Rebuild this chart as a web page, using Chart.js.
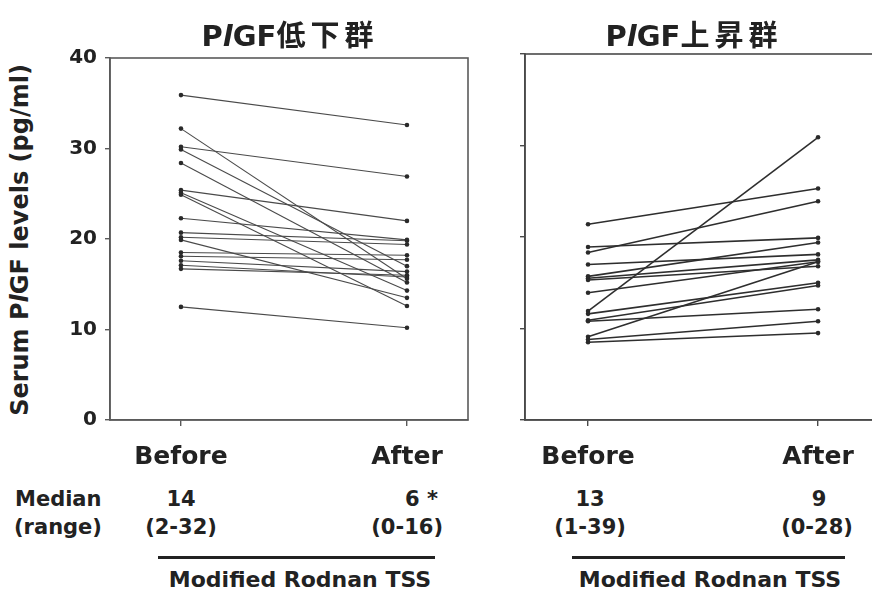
<!DOCTYPE html>
<html>
<head>
<meta charset="utf-8">
<script src="https://cdn.jsdelivr.net/npm/chart.js@4/dist/chart.umd.min.js"></script>
<style>
  html, body { margin: 0; padding: 0; background: #fff; }
  body { width: 872px; height: 591px; position: relative; overflow: hidden;
         font-family: "DejaVu Sans", sans-serif; font-weight: bold; color: #222; }
  canvas { position: absolute; }
  .t { position: absolute; white-space: nowrap; line-height: 1; }
  .ttl { position: absolute; white-space: nowrap; line-height: 1; transform: translateX(-50%); }
  .ttl .lat { font-size: 29px; }
  .ttl .cjk { font-family: "Noto Sans CJK JP", "Noto Sans CJK SC", sans-serif; font-weight: bold;
              font-size: 29px; letter-spacing: 5px; }
  .c { transform: translateX(-50%); }
  .r { transform: translateX(-100%); }
  .rule { position: absolute; height: 3px; background: #222; }
  .ytitle { position: absolute; white-space: nowrap; line-height: 1; font-size: 24px;
            transform: translate(-50%, -50%) rotate(-90deg); }
</style>
</head>
<body>
<canvas id="low" width="420" height="480" style="left:60px;top:0px"></canvas>
<canvas id="high" width="425" height="480" style="left:475px;top:0px"></canvas>

<div class="ttl" style="left:290px;top:19px"><span class="lat">P<i>l</i>GF</span><span class="cjk">低下群</span></div>
<div class="ttl" style="left:694px;top:19px"><span class="lat">P<i>l</i>GF</span><span class="cjk">上昇群</span></div>

<div class="ytitle" style="left:20px;top:240px">Serum P<i>l</i>GF levels (pg/ml)</div>

<div id="notes"></div>

<script>
// Stage labels on the x axis
const STAGES = ['Before', 'After'];
// y-axis ticks (pg/ml)
const Y_TICKS = [0, 10, 20, 30, 40];

// Serum PlGF per patient, group with falling PlGF
const lowBefore = [35.9, 32.2, 30.2, 29.9, 28.4, 25.4, 25.1, 24.9, 22.3, 20.7, 20.2, 19.9, 18.5, 18.1, 17.6, 17.1, 16.7, 12.5];
const lowAfter  = [32.6, 15.6, 26.9, 17.0, 15.2, 22.0, 14.3, 12.6, 19.9, 19.8, 19.4, 13.5, 18.2, 17.7, 16.4, 15.8, 16.0, 10.2];

// Serum PlGF per patient, group with rising PlGF
const highBefore = [21.4, 18.9, 18.3, 17.0, 15.7, 15.5, 15.3, 13.9, 11.9, 11.6, 10.8, 10.9, 9.1, 8.8, 8.5];
const highAfter  = [25.3, 19.9, 23.9, 18.1, 19.4, 17.5, 16.8, 17.3, 30.9, 15.0, 12.1, 14.7, 17.3, 10.8, 9.5];

// Modified Rodnan total skin score, median (range)
const tssMedian = { low: ['14', '6 *'], high: ['13', '9'] };
const tssRange  = { low: ['(2-32)', '(0-16)'], high: ['(1-39)', '(0-28)'] };
const tssLabel = 'Modified Rodnan TSS';

const FONT = 'DejaVu Sans';

const framePlugin = {
  id: 'frame',
  afterDraw(chart, args, opts) {
    const { ctx, chartArea: a } = chart;
    ctx.save();
    ctx.strokeStyle = opts.color;
    ctx.lineWidth = opts.width;
    ctx.strokeRect(a.left, a.top, a.right - a.left, a.bottom - a.top);
    ctx.restore();
  }
};

function pairs(before, after, color, width) {
  return before.map((b, i) => ({
    data: [{ x: 0, y: b }, { x: 1, y: after[i] }],
    borderColor: color,
    borderWidth: width,
    pointRadius: 2.3,
    pointBackgroundColor: '#2a2a2a',
    pointBorderColor: '#2a2a2a',
    pointBorderWidth: 0,
    showLine: true,
    fill: false
  }));
}

function makeChart(id, datasets, xmin, xmax, pad, showY, frameColor) {
  return new Chart(document.getElementById(id), {
    type: 'scatter',
    data: { datasets },
    plugins: [framePlugin],
    options: {
      responsive: false,
      animation: false,
      devicePixelRatio: 1,
      layout: { padding: pad },
      plugins: {
        legend: { display: false },
        tooltip: { enabled: false },
        frame: { color: frameColor, width: 1.6 }
      },
      scales: {
        x: {
          type: 'linear', min: xmin, max: xmax,
          afterBuildTicks: s => { s.ticks = [{ value: 0 }, { value: 1 }]; },
          afterFit: s => { s.height = 60; },
          ticks: {
            callback: v => STAGES[v],
            font: { family: FONT, weight: 'bold', size: 25 },
            color: '#222', padding: 16, maxRotation: 0, autoSkip: false
          },
          grid: { drawOnChartArea: false, drawTicks: true, tickLength: 6, color: frameColor, lineWidth: 1.4 },
          border: { color: frameColor, width: 1.6 }
        },
        y: {
          min: 0, max: 40,
          afterBuildTicks: s => { s.ticks = Y_TICKS.map(v => ({ value: v })); },
          afterFit: s => { s.width = 50; },
          ticks: {
            callback: v => showY ? String(v) : '',
            font: { family: FONT, weight: 'bold', size: 20 },
            color: '#222', padding: 8
          },
          grid: { drawOnChartArea: false, drawTicks: true, tickLength: 5, color: frameColor, lineWidth: 1.4 },
          border: { color: frameColor, width: 1.6 }
        }
      }
    }
  });
}

makeChart('low', pairs(lowBefore, lowAfter, '#4a4a4a', 1.1), -0.314, 1.27,
  { left: 0, top: 58, right: 12, bottom: 0 }, true, '#5a5a5a');
makeChart('high', pairs(highBefore, highAfter, '#2e2e2e', 1.6), -0.274, 1.291,
  { left: 0, top: 54, right: 15, bottom: 0 }, false, '#4a4a4a');

// Median / range rows, rules and TSS captions under both panels
const notes = document.getElementById('notes');
function text(str, x, baseline, size, align) {
  const d = document.createElement('div');
  d.className = 't' + (align === 'c' ? ' c' : align === 'r' ? ' r' : '');
  d.style.fontSize = size + 'px';
  d.style.left = x + 'px';
  d.style.top = (baseline - 0.846 * size) + 'px';
  d.textContent = str;
  notes.appendChild(d);
}
function rule(x1, x2, y) {
  const d = document.createElement('div');
  d.className = 'rule';
  d.style.left = x1 + 'px';
  d.style.width = (x2 - x1) + 'px';
  d.style.top = y + 'px';
  notes.appendChild(d);
}

text('Median', 15, 507, 21, 'l');
text('(range)', 14, 535, 21, 'l');

text(tssMedian.low[0], 181, 507, 21, 'c');
text(tssMedian.low[1], 438, 507, 21, 'r');
text(tssRange.low[0], 181, 535, 21, 'c');
text(tssRange.low[1], 443, 535, 21, 'r');
rule(158, 435, 556);
text(tssLabel, 300, 588, 22, 'c');

text(tssMedian.high[0], 590, 507, 21, 'c');
text(tssMedian.high[1], 819, 507, 21, 'c');
text(tssRange.high[0], 590, 535, 21, 'c');
text(tssRange.high[1], 817, 535, 21, 'c');
rule(572, 845, 556);
text(tssLabel, 710, 588, 22, 'c');
</script>
</body>
</html>
